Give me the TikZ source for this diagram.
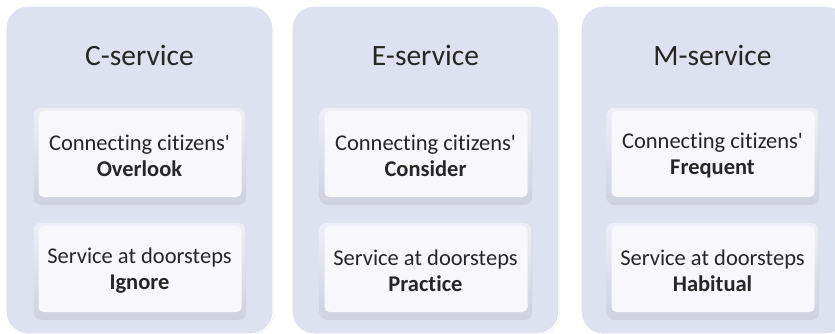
\documentclass[tikz,border=0pt]{standalone}
\usepackage{fontspec}
\setmainfont{Carlito}[Ligatures={TeX,NoCommon}]
\usetikzlibrary{shadows}
\definecolor{panelfill}{HTML}{DEE1F0}
\definecolor{boxface}{HTML}{F8F8FC}
\definecolor{boxtop}{HTML}{EEEFF6}
\definecolor{boxbottom}{HTML}{CFD1E0}
\tikzset{
  panel/.style={rounded corners=22pt, fill=panelfill, draw=white, line width=1.2pt,
    minimum width=267pt, minimum height=328pt, inner sep=0pt,
    drop shadow={shadow xshift=0.8pt, shadow yshift=-0.8pt, opacity=0.25, fill=black!40}},
  paneltitle/.style={font=\fontsize{29.5}{34}\selectfont, text=black!85},
  choice/.style={rounded corners=7pt, top color=boxtop, bottom color=boxbottom,
    minimum width=212pt, minimum height=96pt, align=center, inner sep=0pt,
    font=\fontsize{22.5}{26}\selectfont, text=black!85,
    drop shadow={shadow xshift=0.6pt, shadow yshift=-0.8pt, opacity=0.15, fill=black!50},
    path picture={\fill[boxface, rounded corners=5pt]
      ([xshift=5pt,yshift=-3pt]path picture bounding box.north west) rectangle
      ([xshift=-4pt,yshift=7pt]path picture bounding box.south east);}}
}
\begin{document}
\begin{tikzpicture}[x=1pt, y=-1pt]
  \useasboundingbox (0, 0) rectangle (835, 334);
  % C-service
  \node[panel] (cpanel) at (139.5, 170) {};
  \node[paneltitle] (ctitle) at (139.5, 55) {C-service};
  \node[choice] (cconnect) at (139.5, 156) {Connecting citizens\textquotesingle\\ \textbf{Overlook}};
  \node[choice] (cdoor) at (139.5, 271) {Service at doorsteps\\ \textbf{Ignore}};
  % E-service
  \node[panel] (epanel) at (425.5, 170) {};
  \node[paneltitle] (etitle) at (425.5, 55) {E-service};
  \node[choice] (econnect) at (425.5, 156) {Connecting citizens\textquotesingle\\ \textbf{Consider}};
  \node[choice] (edoor) at (425.5, 271) {Service at doorsteps\\ \textbf{Practice}};
  % M-service
  \node[panel] (mpanel) at (714.5, 170) {};
  \node[paneltitle] (mtitle) at (712.5, 55) {M-service};
  \node[choice] (mconnect) at (712.5, 156) {Connecting citizens\textquotesingle\\ \textbf{Frequent}};
  \node[choice] (mdoor) at (712.5, 271) {Service at doorsteps\\ \textbf{Habitual}};
\end{tikzpicture}
\end{document}
